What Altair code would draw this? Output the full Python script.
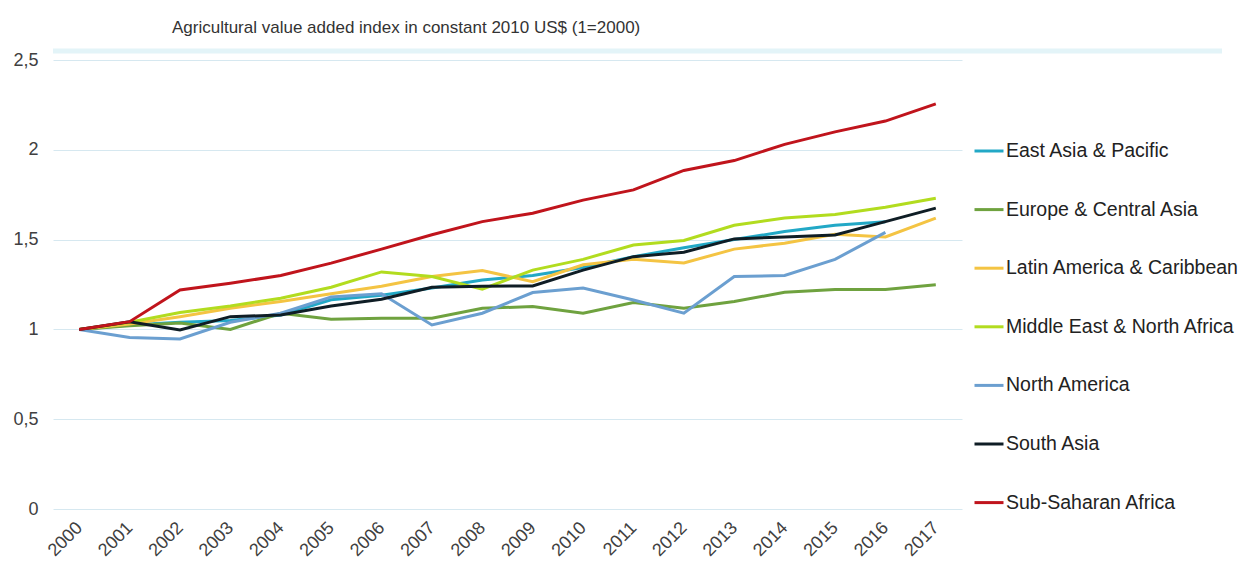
import altair as alt
import pandas as pd

years = [str(y) for y in range(2000, 2018)]
series = [
    "East Asia & Pacific",
    "Europe & Central Asia",
    "Latin America & Caribbean",
    "Middle East & North Africa",
    "North America",
    "South Asia",
    "Sub-Saharan Africa",
]
colors = ["#22a8c6", "#6fa23f", "#f4c443", "#b2dc1f", "#6b9fd0", "#0f1d25", "#c0141c"]

east_asia = [1.00, 1.025, 1.04, 1.05, 1.08, 1.165, 1.19, 1.23, 1.275, 1.30, 1.345, 1.405, 1.455, 1.50, 1.545, 1.58, 1.60, None]
europe = [1.00, 1.02, 1.035, 1.00, 1.09, 1.057, 1.062, 1.062, 1.118, 1.127, 1.09, 1.15, 1.118, 1.155, 1.207, 1.222, 1.222, 1.248]
latin = [1.00, 1.03, 1.071, 1.118, 1.155, 1.198, 1.24, 1.294, 1.328, 1.266, 1.36, 1.39, 1.37, 1.447, 1.48, 1.53, 1.515, 1.62]
mena = [1.00, 1.04, 1.094, 1.13, 1.174, 1.235, 1.32, 1.294, 1.224, 1.33, 1.39, 1.47, 1.495, 1.58, 1.62, 1.64, 1.68, 1.73]
north_america = [1.00, 0.955, 0.947, 1.04, 1.09, 1.18, 1.198, 1.025, 1.09, 1.205, 1.23, 1.164, 1.09, 1.295, 1.30, 1.39, 1.54, None]
south_asia = [1.00, 1.043, 0.997, 1.071, 1.08, 1.13, 1.168, 1.235, 1.24, 1.242, 1.33, 1.405, 1.43, 1.504, 1.515, 1.526, 1.60, 1.675]
ssa = [1.00, 1.043, 1.22, 1.257, 1.30, 1.369, 1.447, 1.527, 1.60, 1.647, 1.72, 1.777, 1.885, 1.94, 2.03, 2.10, 2.16, 2.256]

values = [east_asia, europe, latin, mena, north_america, south_asia, ssa]

rows = []
for i, (name, vals) in enumerate(zip(series, values)):
    for y, v in zip(years, vals):
        if v is not None:
            rows.append({"year": y, "region": name, "value": v, "order": i})
df = pd.DataFrame(rows)

font = "Liberation Sans"

lines = alt.Chart(df).mark_line(strokeWidth=3).encode(
    x=alt.X("year:O", sort=years,
            scale=alt.Scale(type="point", padding=0.52),
            axis=alt.Axis(title=None, labelAngle=-45, labelAlign="right", labelBaseline="middle",
                          labelFontSize=18, labelColor="#404040", labelFont=font,
                          ticks=False, domain=False, labelPadding=16)),
    y=alt.Y("value:Q", scale=alt.Scale(domain=[0, 2.5], nice=False, zero=True),
            axis=alt.Axis(title=None, values=[0, 0.5, 1, 1.5, 2, 2.5],
                          labelExpr="replace(toString(datum.value), '.', ',')",
                          labelFontSize=18, labelColor="#404040", labelFont=font,
                          ticks=False, domain=False, labelPadding=15,
                          gridColor="#d6e8f0", gridWidth=1)),
    color=alt.Color("region:N", sort=series,
                    scale=alt.Scale(domain=series, range=colors),
                    legend=alt.Legend(title=None, orient="none", legendX=920, legendY=75,
                                      symbolType="stroke", symbolSize=841, symbolStrokeWidth=3,
                                      labelFontSize=19.5, labelFont=font, labelColor="#222222",
                                      labelOffset=1, rowPadding=32.6, labelLimit=400)),
    order=alt.Order("order:Q"),
    detail="region:N",
)

band = alt.Chart(pd.DataFrame({"v": [0]})).mark_rule(strokeWidth=5, color="#e3f4f8").encode(
    x=alt.value(0), x2=alt.value(1169), y=alt.value(-9)
)

chart = alt.layer(band, lines).properties(
    width=909,
    height=449,
    title=alt.TitleParams(
        "Agricultural value added index in constant 2010 US$ (1=2000)",
        anchor="start", dx=159, offset=12, fontSize=17, font=font,
        fontWeight="normal", color="#333333",
    ),
    autosize=alt.AutoSizeParams(type="none"),
    padding={"left": 45, "top": 52, "right": 279, "bottom": 55},
).configure_view(stroke=None)

chart.save("out.html", embed_options={"renderer": "svg", "actions": False})
